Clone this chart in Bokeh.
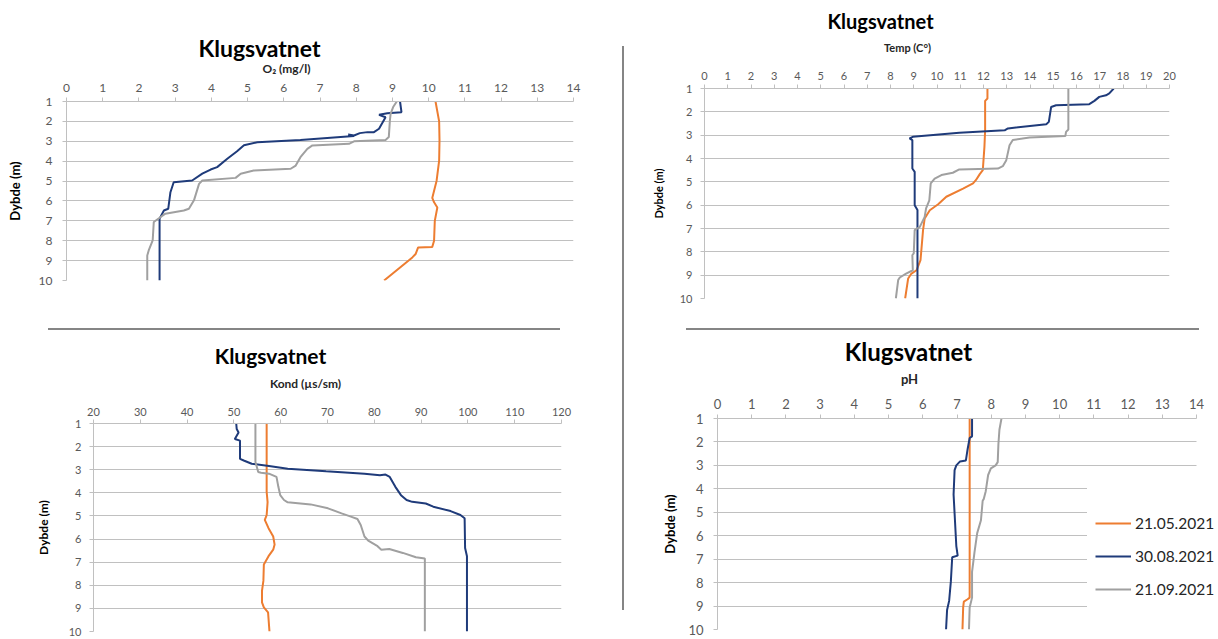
import math
from bokeh.plotting import figure
from bokeh.models import (Range1d, FixedTicker, Label, Legend, LegendItem, Spacer, Plot, Grid)
from bokeh.layouts import row, column
from bokeh.embed import file_html
from bokeh.resources import INLINE

# ---------------- data ----------------
dates = ["21.05.2021", "30.08.2021", "21.09.2021"]
depth_ticks = [1, 2, 3, 4, 5, 6, 7, 8, 9, 10]

# O2 (mg/l)
o2_may_depth = [1.0, 2.0, 2.96, 3.97, 4.98, 5.85, 6.07, 6.33, 7.0, 8.0, 8.31, 8.34, 8.67, 8.84, 10.0]
o2_may = [10.19, 10.29, 10.30, 10.29, 10.22, 10.10, 10.15, 10.24, 10.17, 10.15, 10.10, 9.71, 9.64, 9.55, 8.77]
o2_aug_depth = [1.0, 1.54, 1.59, 1.67, 1.79, 2.37, 2.54, 2.54, 2.59, 2.71, 2.66, 2.74, 2.93, 3.05, 3.2,
                3.5, 3.88, 4.30, 4.42, 4.63, 4.97, 5.06, 5.56, 6.39, 6.48, 6.89, 10.0]
o2_aug = [9.21, 9.25, 8.86, 8.63, 8.81, 8.63, 8.49, 8.31, 8.10, 7.94, 7.78, 7.94, 6.46, 5.27, 4.90,
          4.71, 4.44, 4.16, 3.98, 3.75, 3.47, 2.96, 2.87, 2.81, 2.69, 2.57, 2.57]
o2_sep_depth = [1.0, 1.28, 1.62, 1.95, 2.79, 2.93, 3.0, 3.13, 3.21, 3.38, 3.80, 4.22, 4.38, 4.47, 4.63,
                4.84, 4.97, 5.14, 5.97, 6.39, 6.48, 6.64, 6.81, 7.06, 7.98, 8.49, 8.74, 10.0]
o2_sep = [9.12, 9.02, 8.95, 8.93, 8.90, 8.81, 7.94, 7.80, 6.79, 6.65, 6.46, 6.33, 6.19, 5.17, 4.81,
          4.67, 3.75, 3.66, 3.52, 3.38, 3.24, 2.73, 2.60, 2.41, 2.38, 2.27, 2.23, 2.23]

# Temp (C)
t_may_depth = [1.0, 1.43, 1.53, 2.79, 3.5, 4.5, 4.67, 4.93, 5.07, 5.29, 5.64, 5.96, 6.22, 6.57, 7.07,
               8.36, 8.79, 8.93, 9.14, 10.0]
t_may = [12.17, 12.17, 12.07, 12.07, 12.04, 11.97, 11.84, 11.67, 11.55, 11.12, 10.40, 10.05, 9.69, 9.47,
         9.40, 9.29, 9.12, 8.90, 8.76, 8.63]
t_aug_depth = [1.0, 1.21, 1.29, 1.36, 1.53, 1.67, 1.72, 1.79, 2.43, 2.53, 2.71, 2.79, 2.90, 3.07, 3.14,
               3.21, 4.43, 4.57, 6.0, 6.21, 10.0]
t_aug = [17.6, 17.41, 17.27, 16.98, 16.77, 16.55, 15.12, 14.91, 14.81, 14.70, 13.05, 12.91, 10.96, 8.96,
         8.82, 8.94, 8.94, 9.04, 9.04, 9.16, 9.16]
t_sep_depth = [1.0, 2.76, 2.86, 3.04, 3.1, 3.21, 3.43, 4.07, 4.33, 4.43, 4.47, 4.61, 4.71, 4.86, 5.07,
               5.79, 6.14, 6.5, 6.93, 7.07, 8.07, 8.14, 8.79, 8.93, 9.1, 9.21, 10.0]
t_sep = [15.65, 15.65, 15.55, 15.52, 13.98, 13.26, 13.12, 12.98, 12.83, 12.62, 10.96, 10.68, 10.19, 9.90,
         9.73, 9.67, 9.53, 9.47, 9.26, 9.04, 9.0, 8.94, 8.96, 8.67, 8.40, 8.33, 8.23]

# Kond (us/sm)
k_may_depth = [1.0, 3.96, 4.4, 4.96, 5.17, 5.53, 5.89, 6.24, 6.46, 6.74, 7.1, 7.81, 8.24, 8.74, 8.96, 9.17, 10.0]
k_may = [57.0, 57.0, 57.2, 57.0, 56.6, 57.4, 58.4, 58.7, 58.4, 57.4, 56.4, 56.3, 56.0, 56.0, 56.4, 57.3, 57.6]
k_aug_depth = [1.0, 1.24, 1.39, 1.53, 1.67, 1.74, 2.53, 2.6, 2.74, 2.84, 2.96, 3.07, 3.17, 3.24, 3.21,
               3.31, 3.74, 4.1, 4.31, 4.39, 4.46, 4.6, 4.79, 4.96, 5.1, 6.39, 6.74, 10.0]
k_aug = [50.5, 50.6, 51.0, 50.6, 50.2, 51.3, 51.3, 52.1, 53.8, 57.5, 61.5, 69.7, 77.9, 81.2, 82.4,
         83.3, 84.5, 85.7, 86.9, 88.1, 91.0, 92.6, 96.3, 98.4, 99.3, 99.4, 99.8, 99.8]
k_sep_depth = [1.0, 2.67, 2.81, 3.1, 3.13, 3.17, 3.31, 3.74, 4.1, 4.31, 4.41, 4.5, 4.67, 4.89, 5.03,
               5.13, 5.39, 5.89, 6.07, 6.31, 6.46, 6.43, 6.6, 6.79, 6.84, 10.0]
k_sep = [54.6, 54.6, 54.8, 55.2, 55.8, 57.5, 59.1, 59.5, 59.9, 60.7, 61.5, 66.4, 70.1, 73.0, 75.0,
         76.4, 77.1, 77.9, 78.7, 80.7, 81.5, 83.2, 86.1, 88.9, 90.8, 90.8]

# pH
ph_may_depth = [1.0, 8.64, 8.71, 8.81, 9.06, 10.0]
ph_may = [7.37, 7.37, 7.31, 7.20, 7.18, 7.16]
ph_aug_depth = [1.0, 1.76, 1.83, 2.31, 2.79, 2.83, 3.0, 3.2, 4.24, 5.06, 6.44, 6.85, 6.92, 7.96, 8.78, 9.17, 10.0]
ph_aug = [7.44, 7.44, 7.37, 7.31, 7.26, 7.09, 6.98, 6.93, 6.90, 6.93, 6.98, 7.02, 6.86, 6.82, 6.77, 6.71, 6.68]
ph_sep_depth = [1.0, 1.48, 2.1, 2.86, 3.0, 3.13, 3.41, 4.1, 4.44, 4.51, 5.34, 5.89, 6.72, 7.54, 8.64, 9.06, 10.0]
ph_sep = [8.30, 8.24, 8.21, 8.19, 8.13, 7.99, 7.91, 7.84, 7.78, 7.75, 7.70, 7.59, 7.51, 7.44, 7.44, 7.37, 7.35]

o2_ticks = list(range(0, 15))
temp_ticks = list(range(0, 21))
kond_ticks = list(range(20, 121, 10))
ph_ticks = list(range(0, 15))

# ---------------- style ----------------
FONT = "Lato"
C_MAY = "#ed7d31"
C_AUG = "#1f3b7a"
C_SEP = "#a0a0a0"
GRID = "#c0c0c0"
TICKC = "#595959"
SEPC = "#858585"

HAS_FRAME_ALIGN = "frame_align" in Plot.properties()
HAS_CROSS = "cross_bounds" in Grid.properties()


def no_align(p):
    if HAS_FRAME_ALIGN:
        p.frame_align = False


def header(width, height, texts):
    h = figure(width=width, height=height, x_range=Range1d(0, 1), y_range=Range1d(0, 1),
               x_axis_location=None, y_axis_location=None, output_backend="svg",
               toolbar_location=None, tools="", min_border=0, title=None)
    h.min_border_left = h.min_border_right = h.min_border_top = h.min_border_bottom = 0
    h.outline_line_color = None
    h.grid.visible = False
    no_align(h)
    for sx, sy, text, size, color in texts:
        h.add_layout(Label(x=sx, y=sy, x_units="screen", y_units="screen", text=text,
                           text_font=FONT, text_font_size=f"{size}px", text_font_style="bold",
                           text_color=color, text_align="center", text_baseline="middle"))
    return h


def chart(width, height, left, top, right, bottom, xr, xticks, fs, xstand, ystand,
          ylab_size, ylab_stand, xbound=None):
    p = figure(width=width, height=height, x_range=Range1d(xr[0], xr[1]), y_range=Range1d(10, 1),
               x_axis_location="above", output_backend="svg", toolbar_location=None, tools="",
               min_border_left=left, min_border_top=top, min_border_right=right,
               min_border_bottom=bottom, title=None)
    no_align(p)
    p.outline_line_color = None
    p.xgrid.visible = False
    p.ygrid.ticker = FixedTicker(ticks=depth_ticks)
    p.ygrid.grid_line_color = GRID
    if xbound is not None:
        p.xaxis[0].bounds = xbound
        if HAS_CROSS:
            p.ygrid[0].cross_bounds = xbound
    p.xaxis.ticker = FixedTicker(ticks=xticks)
    p.yaxis.ticker = FixedTicker(ticks=depth_ticks)
    for ax in (p.xaxis[0], p.yaxis[0]):
        ax.axis_line_color = GRID
        ax.major_tick_line_color = GRID
        ax.major_tick_out = 4
        ax.major_tick_in = 0
        ax.minor_tick_line_color = None
        ax.major_label_text_font = FONT
        ax.major_label_text_font_size = f"{fs}px"
        ax.major_label_text_color = TICKC
    p.xaxis[0].major_label_standoff = xstand
    p.yaxis[0].major_label_standoff = ystand
    ya = p.yaxis[0]
    ya.axis_label = "Dybde (m)"
    ya.axis_label_text_font = FONT
    ya.axis_label_text_font_style = "bold"
    ya.axis_label_text_font_size = f"{ylab_size}px"
    ya.axis_label_text_color = "black"
    ya.axis_label_standoff = ylab_stand
    return p


def add_lines(p, series):
    return [p.line(x=xs, y=ys, line_color=c, line_width=2) for xs, ys, c in series]


# Panel 1: O2  (left column, x 0..622, y 0..328)
h1 = header(622, 76, [(259, 29, "Klugsvatnet", 23, "black"),
                      (286, 8, "O\u2082 (mg/l)", 12, "#262626")])
p1 = chart(622, 252, 66, 25, 49, 48, (0, 14), o2_ticks, 12, 6, 10, 13, 13)
add_lines(p1, [(o2_may, o2_may_depth, C_MAY), (o2_aug, o2_aug_depth, C_AUG), (o2_sep, o2_sep_depth, C_SEP)])

# Panel 3: Kond  (left column, y 330..638)
h3 = header(622, 71, [(270, 46, "Klugsvatnet", 21, "black"),
                      (305, 18, "Kond (\u00b5s/sm)", 12, "#262626")])
p3 = chart(622, 237, 93, 22, 61, 7, (20, 120), kond_ticks, 11, 4, 8, 12, 15)
add_lines(p3, [(k_may, k_may_depth, C_MAY), (k_aug, k_aug_depth, C_AUG), (k_sep, k_sep_depth, C_SEP)])

# Panel 2: Temp  (right column, x 624..1216, y 0..328)
h2 = header(592, 65, [(256, 45, "Klugsvatnet", 20, "black"),
                      (283, 18, "Temp (C\u00b0)", 11, "#262626")])
p2 = chart(592, 263, 80, 23, 47, 30, (0, 20), temp_ticks, 11, 5, 8, 11, 12)
add_lines(p2, [(t_may, t_may_depth, C_MAY), (t_aug, t_aug_depth, C_AUG), (t_sep, t_sep_depth, C_SEP)])

# Panel 4: pH  (right column, y 330..638)
h4 = header(592, 62, [(284, 41, "Klugsvatnet", 24, "black"),
                      (285, 14, "pH", 13, "#262626")])
ph_frame_w = 592 - 93
p4 = chart(592, 246, 93, 26, 0, 9, (0, 14 * ph_frame_w / 479.0), ph_ticks, 13, 6, 10, 13, 7,
           xbound=(0, 14))
r_may, r_aug, r_sep = add_lines(p4, [(ph_may, ph_may_depth, C_MAY), (ph_aug, ph_aug_depth, C_AUG),
                                     (ph_sep, ph_sep_depth, C_SEP)])
blank = p4.line(x=[], y=[], line_alpha=0)
legend = Legend(items=[LegendItem(label=" ", renderers=[blank]),
                       LegendItem(label=dates[0], renderers=[r_may]),
                       LegendItem(label=dates[1], renderers=[r_aug]),
                       LegendItem(label=dates[2], renderers=[r_sep]),
                       LegendItem(label=" ", renderers=[blank])],
                location=(370, -3), padding=4, spacing=13, label_height=20, glyph_height=20,
                glyph_width=36, label_standoff=4, margin=0,
                title=" ", title_location="left", title_standoff=2,
                title_text_font=FONT, title_text_font_size="5px",
                label_text_font=FONT, label_text_font_size="15.5px", label_text_color="#262626",
                border_line_color=None, background_fill_color="white", background_fill_alpha=1.0)
p4.add_layout(legend)

# ---------------- layout ----------------
left_sep = row(Spacer(width=48, height=2),
               Spacer(width=512, height=2, styles={"background-color": SEPC}),
               Spacer(width=62, height=2))
right_sep = row(Spacer(width=62, height=2),
                Spacer(width=513, height=2, styles={"background-color": SEPC}),
                Spacer(width=17, height=2))
left_col = column(h1, p1, left_sep, h3, p3)
right_col = column(h2, p2, right_sep, h4, p4)
mid_col = column(Spacer(width=2, height=46),
                 Spacer(width=2, height=564, styles={"background-color": SEPC}),
                 Spacer(width=2, height=28))
layout = row(left_col, mid_col, right_col)

open("out.html", "w").write(file_html(layout, INLINE))
